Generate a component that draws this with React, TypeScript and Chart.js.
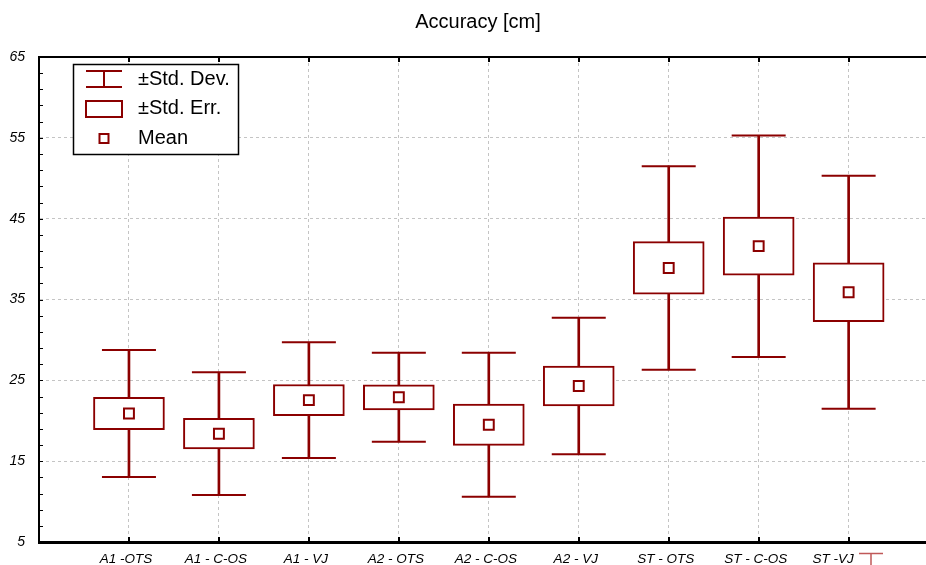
import { useEffect, useRef } from 'react'
import { Chart, registerables } from 'chart.js'
import type { Plugin } from 'chart.js'

Chart.register(...registerables)

const CATEGORIES = ['A1 -OTS', 'A1 - C-OS', 'A1 - VJ', 'A2 - OTS', 'A2 - C-OS', 'A2 - VJ', 'ST - OTS', 'ST - C-OS', 'ST -VJ']
const MEANS = [20.9, 18.4, 22.55, 22.9, 19.5, 24.3, 38.9, 41.6, 35.9]
const STD_DEV = [7.85, 7.6, 7.15, 5.5, 8.9, 8.45, 12.6, 13.7, 14.4]
const STD_ERR = [2.0, 1.9, 1.93, 1.55, 2.55, 2.45, 3.25, 3.6, 3.65]
const Y_TICKS = [5, 15, 25, 35, 45, 55, 65]
const LEGEND_LABELS = ['±Std. Dev.', '±Std. Err.', 'Mean']

const DARK_RED = '#8B0000'
const FONT = "'Liberation Sans', Arial, sans-serif"

// axis frame, inward tick marks, category labels, title and the in-plot legend
const decorations: Plugin = {
  id: 'decorations',
  afterDraw(chart) {
    const { ctx, chartArea: { left, top, bottom } } = chart
    const xs = chart.scales.x
    const ys = chart.scales.y
    ctx.save()

    // top frame line (plot continues past the right edge of the picture)
    ctx.strokeStyle = '#000'
    ctx.lineWidth = 2
    ctx.beginPath()
    ctx.moveTo(left, top)
    ctx.lineTo(chart.width, top)
    ctx.stroke()

    // minor y ticks every 2 units
    ctx.lineWidth = 1
    ctx.beginPath()
    for (let v = 5; v <= 65; v += 2) {
      const y = Math.round(ys.getPixelForValue(v)) + 0.5
      ctx.moveTo(left, y)
      ctx.lineTo(left + 4, y)
    }
    ctx.stroke()

    // x ticks at categories, top and bottom
    ctx.lineWidth = 2
    ctx.beginPath()
    CATEGORIES.forEach((_, i) => {
      const x = Math.round(xs.getPixelForValue(i + 1))
      ctx.moveTo(x, top)
      ctx.lineTo(x, top + 5)
      ctx.moveTo(x, bottom)
      ctx.lineTo(x, bottom - 5)
    })
    ctx.stroke()

    // category labels; the last one is pushed left of the clipped legend icon
    ctx.fillStyle = '#000'
    ctx.font = `italic 13.5px ${FONT}`
    ctx.textBaseline = 'middle'
    CATEGORIES.forEach((c, i) => {
      const x = xs.getPixelForValue(i + 1)
      const last = i === CATEGORIES.length - 1
      ctx.textAlign = last ? 'right' : 'center'
      ctx.fillText(c, last ? x + 5 : x - 3, bottom + 17)
    })

    // title
    ctx.font = `20px ${FONT}`
    ctx.textAlign = 'center'
    ctx.fillText('Accuracy [cm]', 478, 22)

    // legend
    ctx.fillStyle = '#fff'
    ctx.fillRect(73, 64, 166, 91)
    ctx.strokeStyle = '#000'
    ctx.lineWidth = 1.5
    ctx.strokeRect(73.5, 64.5, 165, 90)

    ctx.strokeStyle = DARK_RED
    ctx.lineWidth = 2
    ctx.beginPath()
    ctx.moveTo(86, 71); ctx.lineTo(122, 71)
    ctx.moveTo(86, 87); ctx.lineTo(122, 87)
    ctx.moveTo(104, 71); ctx.lineTo(104, 87)
    ctx.stroke()
    ctx.strokeRect(86, 101, 36, 16)
    ctx.strokeRect(99.5, 134, 9, 9)

    ctx.fillStyle = '#000'
    ctx.font = `20px ${FONT}`
    ctx.textAlign = 'left'
    LEGEND_LABELS.forEach((t, i) => ctx.fillText(t, 138, [79, 108, 138][i]))

    // clipped legend icon in the bottom-right corner
    ctx.strokeStyle = '#c05858'
    ctx.lineWidth = 1.5
    ctx.beginPath()
    ctx.moveTo(859, 553.5); ctx.lineTo(883, 553.5)
    ctx.moveTo(871, 553); ctx.lineTo(871, 566)
    ctx.stroke()

    ctx.restore()
  },
}

export default function App() {
  const canvasRef = useRef<HTMLCanvasElement>(null)

  useEffect(() => {
    document.body.style.margin = '0'
    if (!canvasRef.current) return

    const xOf = (i: number) => i + 1
    const caps = [
      ...MEANS.map((m, i) => ({ x: xOf(i), y: m + STD_DEV[i] })),
      ...MEANS.map((m, i) => ({ x: xOf(i), y: m - STD_DEV[i] })),
    ]

    const chart = new Chart(canvasRef.current, {
      type: 'bar',
      data: {
        datasets: [
          {
            type: 'scatter',
            data: MEANS.map((m, i) => ({ x: xOf(i), y: m })),
            pointStyle: 'rect',
            pointRadius: 7,
            pointHoverRadius: 7,
            pointBackgroundColor: '#fff',
            pointBorderColor: DARK_RED,
            pointBorderWidth: 2,
            order: 1,
          },
          {
            type: 'bar',
            data: MEANS.map((m, i) => ({ x: xOf(i), y: [m - STD_ERR[i], m + STD_ERR[i]] })),
            barThickness: 71,
            backgroundColor: '#fff',
            borderColor: DARK_RED,
            borderWidth: 2,
            borderSkipped: false,
            grouped: false,
            order: 2,
          },
          {
            type: 'bar',
            data: MEANS.map((m, i) => ({ x: xOf(i), y: [m - STD_DEV[i], m + STD_DEV[i]] })),
            barThickness: 2,
            backgroundColor: DARK_RED,
            borderWidth: 0,
            grouped: false,
            order: 3,
          },
          {
            type: 'scatter',
            data: caps,
            pointStyle: 'line',
            pointRadius: 27,
            pointHoverRadius: 27,
            pointBorderColor: DARK_RED,
            pointBorderWidth: 2,
            order: 4,
          },
        ] as any,
      },
      options: {
        animation: false,
        responsive: true,
        maintainAspectRatio: false,
        layout: { autoPadding: false, padding: { top: 57, left: 0, right: 0, bottom: 0 } },
        plugins: { legend: { display: false }, tooltip: { enabled: false }, title: { display: false } },
        events: [],
        scales: {
          x: {
            type: 'linear',
            min: 0,
            max: 9.86,
            offset: false,
            afterFit: (s: any) => { s.height = 23; s.paddingLeft = 0; s.paddingRight = 0 },
            afterBuildTicks: (s: any) => { s.ticks = CATEGORIES.map((_, i) => ({ value: xOf(i) })) },
            grid: { color: '#c4c4c4', lineWidth: 1, drawTicks: false, offset: false },
            border: { display: true, color: '#000', width: 3, dash: [3, 3] },
            ticks: { display: false },
          },
          y: {
            type: 'linear',
            min: 5,
            max: 65,
            afterFit: (s: any) => { s.width = 39; s.paddingTop = 0; s.paddingBottom = 0 },
            afterBuildTicks: (s: any) => { s.ticks = Y_TICKS.map(v => ({ value: v })) },
            grid: { color: '#c4c4c4', lineWidth: 1, drawTicks: false },
            border: { display: true, color: '#000', width: 2, dash: [3, 3] },
            ticks: {
              padding: 14,
              color: '#000',
              font: { family: FONT, size: 14, style: 'italic' },
            },
          },
        },
      },
      plugins: [decorations],
    })

    return () => chart.destroy()
  }, [])

  return (
    <div style={{ position: 'relative', width: 926, height: 565, background: '#fff' }}>
      <canvas ref={canvasRef} />
    </div>
  )
}
